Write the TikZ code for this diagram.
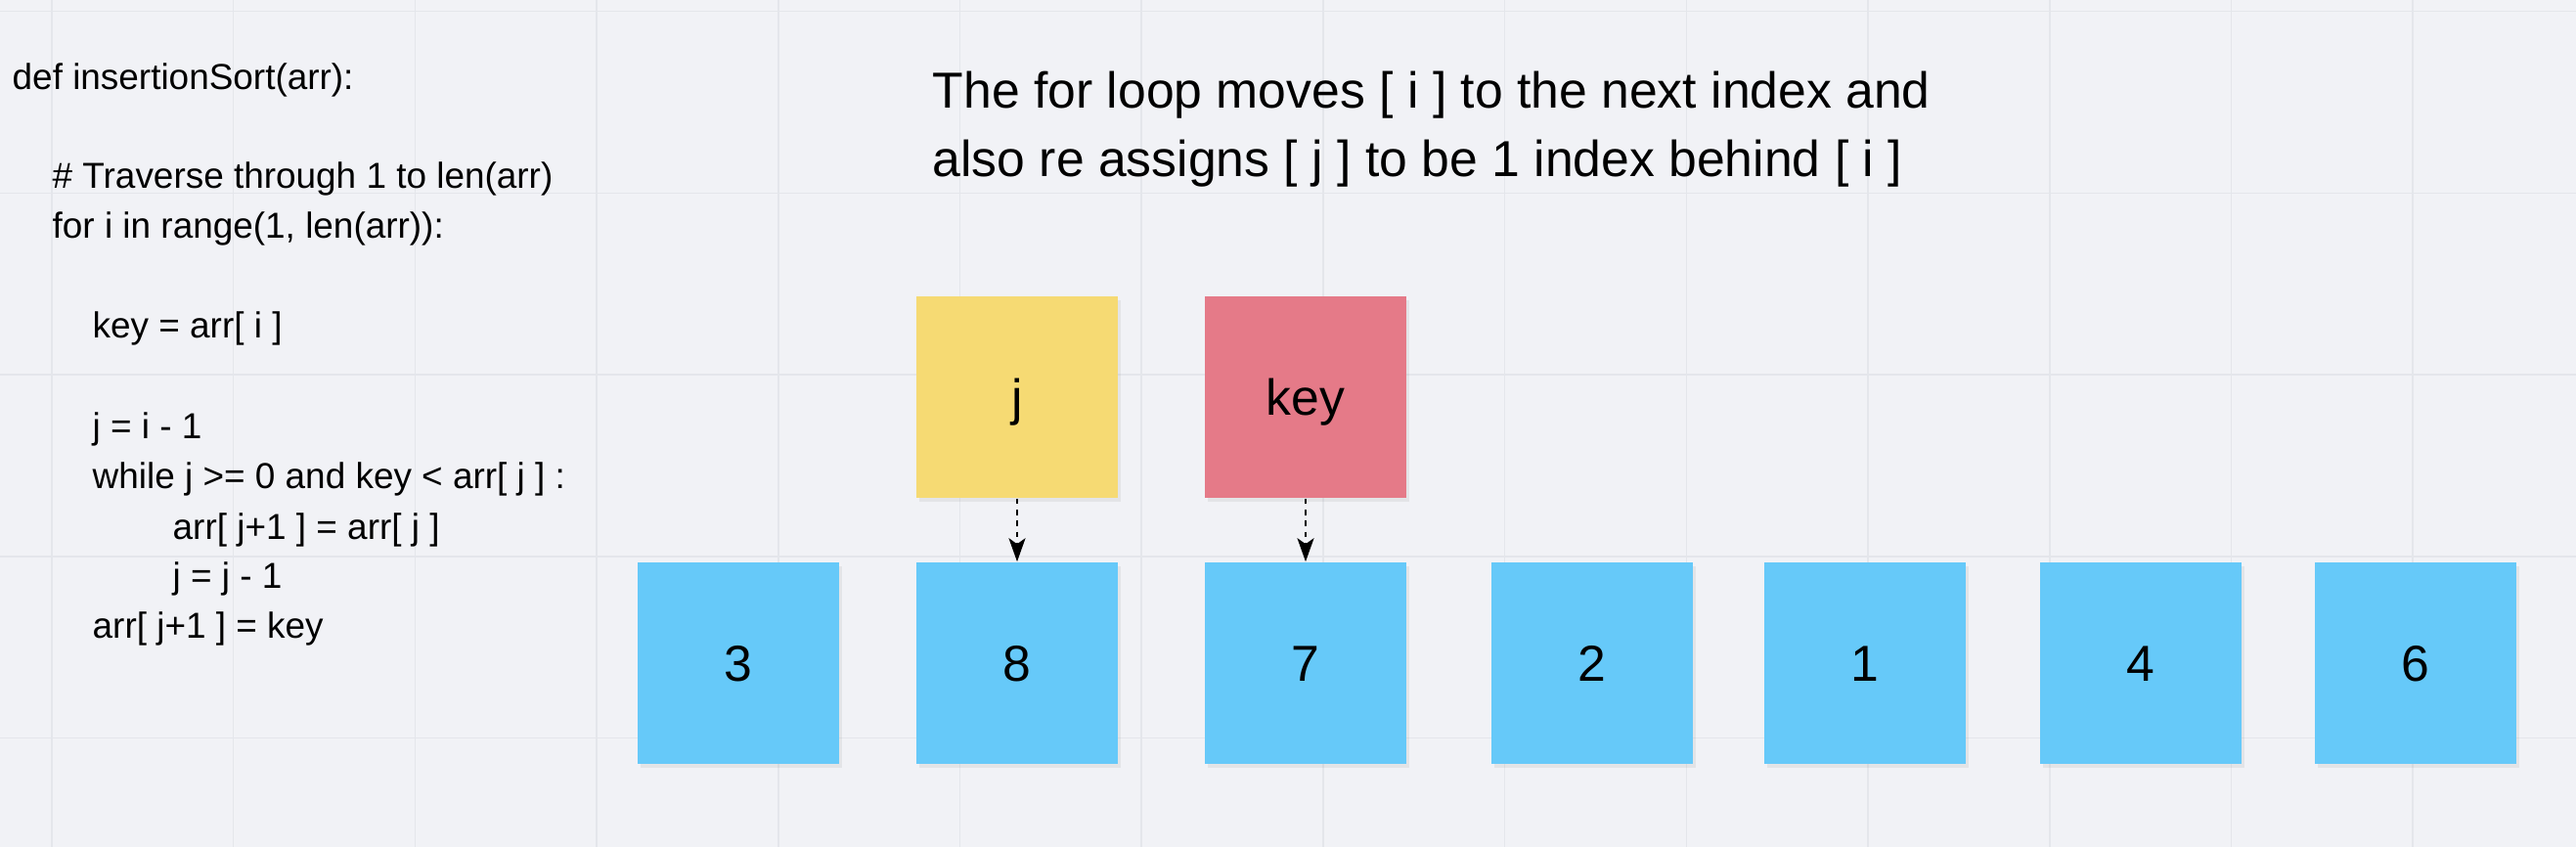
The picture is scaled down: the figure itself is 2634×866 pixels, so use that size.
\documentclass[tikz,border=0pt]{standalone}
\usepackage{fontspec}
\setmainfont{Liberation Sans}
\usetikzlibrary{arrows.meta,shadows}

\definecolor{boardbg}{HTML}{F1F2F6}
\definecolor{gridline}{HTML}{E4E6EB}
\definecolor{cellblue}{HTML}{66C9F9}
\definecolor{noteyellow}{HTML}{F6DA73}
\definecolor{notered}{HTML}{E57A88}

\tikzset{
  cell/.style={minimum size=2.06cm, inner sep=0pt,
    text height=10.5pt, text depth=0pt,
    font=\fontsize{14.7}{17}\selectfont,
    drop shadow={shadow xshift=0.03cm, shadow yshift=-0.04cm, opacity=0.12}},
  codeline/.style={anchor=base west, inner sep=0pt,
    font=\fontsize{10.5}{12}\selectfont},
  headline/.style={anchor=base west, inner sep=0pt,
    font=\fontsize{14.7}{17}\selectfont},
  pointer/.style={-{Stealth[length=0.24cm, width=0.17cm, inset=0.06cm]},
    dash pattern=on 1.6pt off 1.6pt, line width=0.65pt}
}

\begin{document}
\begin{tikzpicture}[x=0.01cm, y=-0.01cm]
\useasboundingbox (0,0) rectangle (2634,866);
% Board background and its grid
\fill [boardbg] (0,0) rectangle (2634,866);
\foreach \gx in {0,...,13} {
  \draw [gridline, line width=0.45pt] (53+185.7*\gx,0) -- (53+185.7*\gx,866);
}
\foreach \gy in {0,...,4} {
  \draw [gridline, line width=0.45pt] (0,11.7+185.7*\gy) -- (2634,11.7+185.7*\gy);
}
% The code, one line at a time
\foreach \cx/\cy/\txt in {
  12/91/{def insertionSort(arr):},
  53/192/{\# Traverse through 1 to len(arr)},
  53/243/{for i in range(1, len(arr)):},
  94/345/{key = arr[ i ]},
  94/448/{j = i - 1},
  94/499/{while j >= 0 and key < arr[ j ] :},
  176/551/{arr[ j+1 ] = arr[ j ]},
  176/601/{j = j - 1},
  94/652/{arr[ j+1 ] = key}} {
  \node [codeline] at (\cx,\cy) {\txt};
}
% Explanation above the array
\node [headline] (note1) at (953,110) {The for loop moves [ i ] to the next index and};
\node [headline] (note2) at (953,180) {also re assigns [ j ] to be 1 index behind [ i ]};
% The array cells
\foreach \val/\cx [count=\n] in {3/755, 8/1040, 7/1335, 2/1628, 1/1907, 4/2189, 6/2470} {
  \node [cell, fill=cellblue] (a\n) at (\cx,678) {\val};
}
% The j and key markers
\node [cell, fill=noteyellow] (jptr) at (1040,406) {j};
\node [cell, fill=notered] (keyptr) at (1335,406) {key};
\draw [pointer] (jptr) -- (a2);
\draw [pointer] (keyptr) -- (a3);
\end{tikzpicture}
\end{document}
